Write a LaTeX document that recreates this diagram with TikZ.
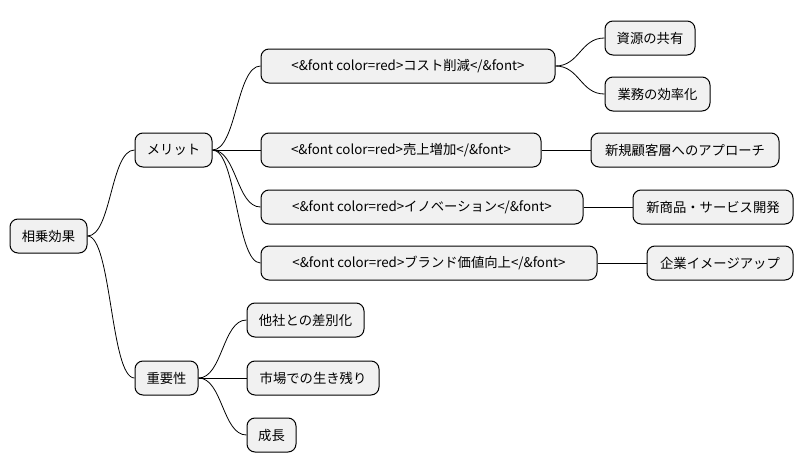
\documentclass[tikz,border=0pt]{standalone}
\usepackage{fontspec}
\setmainfont{Noto Sans CJK JP}
\begin{document}
\begin{tikzpicture}[x=0.75pt,y=-0.75pt,
  box/.style={draw=black,line width=0.75pt,fill={rgb,255:red,241;green,241;blue,241},rounded corners=6pt,
    minimum height=25.5pt,inner sep=0pt,font=\fontsize{10pt}{12pt}\selectfont,minimum width=#1*0.75pt},
  e/.style={draw=black,line width=0.6pt}]
\useasboundingbox (0,0) rectangle (804,471);
\node[box=77] (r) at (48.5,236) {相乗効果};
\node[box=77] (m) at (173.5,150) {メリット};
\node[box=63] (j) at (166.5,378) {重要性};
\node[box=294] (c) at (408,66) {<\&font color=red>コスト削減</\&font>};
\node[box=280] (u) at (401,150) {<\&font color=red>売上増加</\&font>};
\node[box=322] (i) at (422,207) {<\&font color=red>イノベーション</\&font>};
\node[box=336] (b) at (429,263) {<\&font color=red>ブランド価値向上</\&font>};
\node[box=90] (c1) at (650,38) {資源の共有};
\node[box=105] (c2) at (657.5,94) {業務の効率化};
\node[box=188] (u1) at (685,150) {新規顧客層へのアプローチ};
\node[box=160] (i1) at (713,207) {新商品・サービス開発};
\node[box=146] (b1) at (720,263) {企業イメージアップ};
\node[box=117] (j1) at (305.5,320) {他社との差別化};
\node[box=132] (j2) at (313,378) {市場での生き残り};
\node[box=49] (j3) at (271.5,435) {成長};
\foreach \p/\q in {r/m,r/j,m/c,m/u,m/i,m/b,c/c1,c/c2,u/u1,i/i1,b/b1,j/j1,j/j2,j/j3}
  \draw[e] (\p.east) .. controls +(24,0) and +(-24,0) .. (\q.west);
\end{tikzpicture}
\end{document}
